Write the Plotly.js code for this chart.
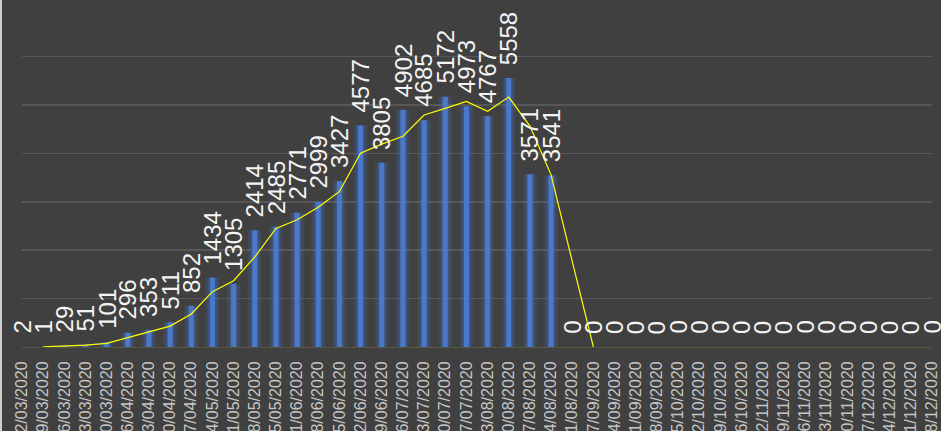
<!DOCTYPE html>
<html>
<head>
<meta charset="utf-8">
<script src="https://cdn.plot.ly/plotly-3.0.1.min.js"></script>
<style>
  html, body { margin: 0; padding: 0; background: #404040; overflow: hidden; }
  #chart { width: 941px; height: 431px; }
</style>
</head>
<body>
<div id="chart"></div>
<script>
const weeks = ["02/03/2020","09/03/2020","16/03/2020","23/03/2020","30/03/2020","06/04/2020","13/04/2020","20/04/2020","27/04/2020","04/05/2020","11/05/2020","18/05/2020","25/05/2020","01/06/2020","08/06/2020","15/06/2020","22/06/2020","29/06/2020","06/07/2020","13/07/2020","20/07/2020","27/07/2020","03/08/2020","10/08/2020","17/08/2020","24/08/2020","31/08/2020","07/09/2020","14/09/2020","21/09/2020","28/09/2020","05/10/2020","12/10/2020","19/10/2020","26/10/2020","02/11/2020","09/11/2020","16/11/2020","23/11/2020","30/11/2020","07/12/2020","14/12/2020","21/12/2020","28/12/2020"];
const cases = [2,1,29,51,101,296,353,511,852,1434,1305,2414,2485,2771,2999,3427,4577,3805,4902,4685,5172,4973,4767,5558,3571,3541,0,0,0,0,0,0,0,0,0,0,0,0,0,0,0,0,0,0];
// 2-period moving-average trendline (as drawn in the source), shown through 07/09/2020
const trendLastIndex = 27;

const trend = cases.map((v, i) => (i >= 1 && i <= trendLastIndex) ? (cases[i - 1] + v) / 2 : null);

const glowOuter = {
  type: 'bar', x: weeks, y: cases, width: 0.66,
  marker: { color: 'rgba(68,114,196,0.16)', line: { width: 0 } }, hoverinfo: 'skip', showlegend: false
};
const glowInner = {
  type: 'bar', x: weeks, y: cases, width: 0.44,
  marker: { color: 'rgba(68,114,196,0.26)', line: { width: 0 } }, hoverinfo: 'skip', showlegend: false
};
const bars = {
  type: 'bar', x: weeks, y: cases, width: 0.24,
  marker: { color: '#4a78ca', line: { width: 0 } },
  showlegend: false
};
const line = {
  type: 'scatter', mode: 'lines', x: weeks, y: trend,
  line: { color: '#FFFF00', width: 1.2 }, connectgaps: false, showlegend: false
};

const annotations = cases.map((v, i) => ({
  x: weeks[i], y: v, xref: 'x', yref: 'y',
  text: String(v), showarrow: false, textangle: -90,
  xanchor: 'center', yanchor: 'bottom', yshift: 11,
  font: { family: 'Liberation Sans, Arial, sans-serif', size: 24, color: '#f4f4f4' }
}));

const layout = {
  width: 941, height: 431,
  margin: { l: 22, r: 9, t: 13, b: 84, pad: 0 },
  paper_bgcolor: '#404040', plot_bgcolor: '#404040',
  barmode: 'overlay',
  showlegend: false,
  xaxis: {
    type: 'category', categoryarray: weeks, categoryorder: 'array',
    range: [0, weeks.length - 1],
    tickangle: -90, automargin: false,
    tickfont: { family: 'Liberation Sans, Arial, sans-serif', size: 16, color: '#c6c6c6' },
    showgrid: false, showline: false,
    ticks: 'outside', ticklen: 7, tickcolor: 'rgba(0,0,0,0)',
    zeroline: false
  },
  yaxis: {
    range: [0, 6900], dtick: 1000, showticklabels: false,
    showgrid: true, gridcolor: '#575757', gridwidth: 1.5,
    zeroline: true, zerolinecolor: '#57573f', zerolinewidth: 1,
    ticks: '', automargin: false
  },
  annotations: annotations,
  shapes: [{
    type: 'rect', xref: 'paper', yref: 'paper',
    x0: -22 / 910, x1: -20 / 910, y0: -84 / 334, y1: 1 + 13 / 334,
    fillcolor: '#cfcfcf', line: { width: 0 }, layer: 'above'
  }]
};

Plotly.newPlot('chart', [glowOuter, glowInner, bars, line], layout, { staticPlot: true, displayModeBar: false });
</script>
</body>
</html>
